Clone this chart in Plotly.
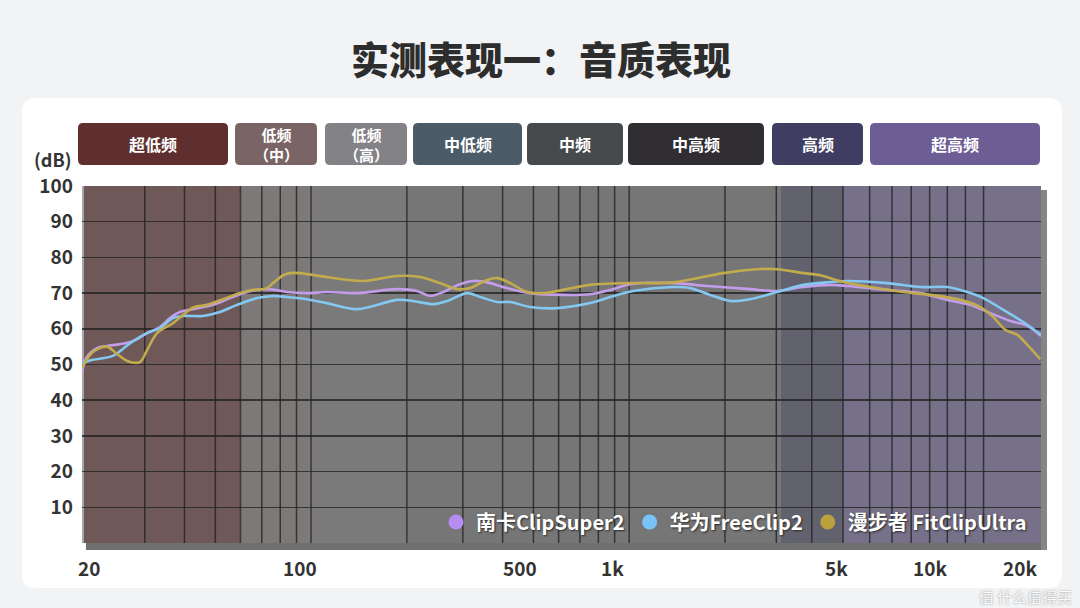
import math
import plotly.graph_objects as go

# ---------------- data ----------------
series_names = ["南卡ClipSuper2", "华为FreeClip2", "漫步者 FitClipUltra"]

nanka_freq = [19.05, 19.7, 21.2, 22.8, 25.1, 27.6, 30.5, 33.5, 36.0, 38.7, 42.6, 49.2, 55.6, 62.9,
              69.1, 75.9, 84.0, 97.1, 112, 140, 186, 215, 237, 260, 294, 323, 358, 413, 488, 620,
              754, 871, 1007, 1375, 1759, 2401, 2920, 3525, 4287, 4848, 6476, 8226, 10000, 11814,
              13651, 15783, 17847, 19700]
nanka_db = [47.6, 52.0, 54.6, 55.2, 55.7, 56.6, 58.8, 60.5, 63.0, 64.7, 65.5, 66.7, 68.6, 70.3,
            71.0, 71.0, 70.3, 70.0, 70.3, 70.0, 71.1, 70.6, 69.2, 70.3, 72.5, 73.4, 73.0, 71.4, 70.0, 69.5,
            69.7, 70.9, 72.5, 72.8, 72.0, 71.1, 70.6, 71.7, 72.3, 72.0, 70.9, 70.0, 68.1, 66.7,
            64.4, 62.2, 60.8, 58.0]

huawei_freq = [19.05, 20.6, 23.8, 27.0, 30.5, 33.5, 36.8, 39.6, 45.7, 51.7, 58.5, 67.6, 75.9, 84.0,
               97.1, 112, 140, 186, 209, 242, 268, 309, 340, 385, 423, 488, 594, 754, 871, 1029,
               1375, 1555, 1797, 2078, 2401, 2920, 3525, 4287, 4848, 6476, 8226, 10000, 11560,
               12977, 15003, 17338, 19700]
huawei_db = [50.4, 51.3, 52.4, 56.0, 58.8, 60.2, 63.0, 63.6, 63.6, 64.7, 66.7, 68.6, 69.2, 68.9,
             68.3, 67.2, 65.5, 68.1, 67.8, 66.9, 67.8, 70.0, 68.9, 67.5, 67.5, 66.1, 65.8, 67.2, 68.9, 70.6,
             71.7, 71.4, 69.5, 67.8, 68.3, 70.3, 72.3, 73.1, 73.4, 72.8, 71.7, 71.7, 70.3,
             68.6, 65.3, 61.9, 58.3]

edifier_freq = [19.05, 20.6, 22.8, 24.5, 26.4, 29.0, 30.5, 32.8, 36.8, 39.6, 42.6, 47.1, 52.9, 59.8,
                65.7, 72.7, 75.9, 81.7, 85.9, 92.3, 112, 146, 186, 220, 254, 288, 316, 358, 385, 423,
                478, 537, 620, 754, 1007, 1375, 1975, 2526, 2920, 3525, 3987, 4710, 5727, 7270,
                8843, 10987, 12698, 13953, 15221, 16602, 17847, 19612]
edifier_db = [49.0, 53.5, 55.0, 53.0, 51.0, 50.7, 54.0, 58.8, 61.6, 63.9, 66.0, 66.7, 68.3, 70.0,
              70.9, 71.4, 72.8, 75.0, 75.6, 75.6, 74.5, 73.4, 74.8, 74.5, 72.8, 71.1, 71.4, 73.7, 74.2, 72.8,
              70.3, 70.0, 70.9, 72.3, 72.8, 73.0, 75.6, 76.7, 76.7, 75.6, 75.0, 73.1, 71.7, 70.3,
              69.5, 68.1, 66.1, 63.3, 59.7, 58.3, 55.5, 51.5]

# frequency bands (Hz) and their labels
band_edges = [19.05, 60, 100, 200, 3000, 4700, 19700]
band_labels = ["超低频", "低频<br>（中）", "低频<br>（高）", "中低频", "中频", "中高频", "高频", "超高频"]

y_ticks = [10, 20, 30, 40, 50, 60, 70, 80, 90, 100]
x_tick_vals = [20, 100, 500, 1000, 5000, 10000, 20000]
x_tick_text = ["20", "100", "500", "1k", "5k", "10k", "20k"]
grid_freqs = [30, 40, 50, 60, 70, 80, 90, 100, 200, 300, 400, 500, 600, 700, 800, 900, 1000,
              2000, 2900, 3750, 4700, 5700, 6700, 7700, 8800, 10000, 11400, 13000]

# ---------------- styling ----------------
W, H = 1080, 608
PL, PR, PT, PB = 82, 1041, 186, 543
line_colors = ["#c39de9", "#84c7f0", "#c2ab4c"]
marker_colors = ["#b68cf0", "#78c4f6", "#b9a23d"]
band_fill = ["#6e5858", "#7e7979", "#7a7a7a", "#767676", "#62626f", "#767189"]
box_colors = ["#5f2f2f", "#7b6465", "#838287", "#4b5c68", "#464a4d", "#312e33", "#3f3e62", "#6c5d95"]
box_px = [(78, 228), (235, 317), (325, 407), (413, 522), (527, 623), (628, 764), (772, 863), (870, 1040)]
x_nudge = [0, -11, -13, -17, -15, -17, -23]
FONT = "Noto Sans CJK SC"
LO, HI = math.log10(band_edges[0]), math.log10(band_edges[-1])


def X(px):
    return (px - PL) / (PR - PL)


def Y(py):
    return (PB - py) / (PB - PT)


def rrect(x0, y0, x1, y1, r):
    p = [
        f"M {X(x0 + r)},{Y(y0)}", f"L {X(x1 - r)},{Y(y0)}", f"Q {X(x1)},{Y(y0)} {X(x1)},{Y(y0 + r)}",
        f"L {X(x1)},{Y(y1 - r)}", f"Q {X(x1)},{Y(y1)} {X(x1 - r)},{Y(y1)}",
        f"L {X(x0 + r)},{Y(y1)}", f"Q {X(x0)},{Y(y1)} {X(x0)},{Y(y1 - r)}",
        f"L {X(x0)},{Y(y0 + r)}", f"Q {X(x0)},{Y(y0)} {X(x0 + r)},{Y(y0)}", "Z",
    ]
    return " ".join(p)


fig = go.Figure()

all_f = [nanka_freq, huawei_freq, edifier_freq]
all_d = [nanka_db, huawei_db, edifier_db]
for i in range(3):
    fig.add_trace(go.Scatter(
        x=all_f[i], y=all_d[i], mode="lines", showlegend=False, hoverinfo="skip",
        line=dict(color=line_colors[i], width=2.6, shape="spline", smoothing=0.9),
    ))
for i in range(3):
    fig.add_trace(go.Scatter(
        x=[None], y=[None], mode="markers", name=series_names[i],
        marker=dict(color=marker_colors[i], size=15),
    ))

shapes = []
# white card
shapes.append(dict(type="path", xref="paper", yref="paper", path=rrect(22, 98, 1062, 588, 14),
                   fillcolor="white", line=dict(width=0), layer="below"))
# plot shadow strips
shapes.append(dict(type="rect", xref="paper", yref="paper", x0=X(86), x1=X(1047), y0=Y(550), y1=Y(543),
                   fillcolor="#707070", line=dict(width=0), layer="below"))
shapes.append(dict(type="rect", xref="paper", yref="paper", x0=X(1041), x1=X(1047), y0=Y(550), y1=Y(190),
                   fillcolor="#858585", line=dict(width=0), layer="below"))
# band backgrounds
for i in range(len(band_edges) - 1):
    shapes.append(dict(type="rect", xref="x", yref="paper", x0=band_edges[i], x1=band_edges[i + 1],
                       y0=0, y1=1, fillcolor=band_fill[i], line=dict(width=0), layer="below"))
# vertical grid
for f in grid_freqs:
    shapes.append(dict(type="line", xref="x", yref="paper", x0=f, x1=f, y0=0, y1=1,
                       line=dict(color="rgba(35,35,35,0.8)", width=1.5), layer="between"))
# left edge highlight
shapes.append(dict(type="line", xref="paper", yref="paper", x0=0.001, x1=0.001, y0=0, y1=1,
                   line=dict(color="#a9a9a9", width=2), layer="between"))
# band label boxes
for i, (a, b) in enumerate(box_px):
    shapes.append(dict(type="path", xref="paper", yref="paper", path=rrect(a, 123, b, 165, 5),
                       fillcolor=box_colors[i], line=dict(width=0), layer="below"))

annotations = []
for i, (a, b) in enumerate(box_px):
    two = "<br>" in band_labels[i]
    annotations.append(dict(xref="paper", yref="paper", x=X((a + b) / 2), y=Y(144), text=band_labels[i],
                            showarrow=False, xanchor="center", yanchor="middle",
                            font=dict(family=FONT, size=15 if two else 16, color="white", weight="bold")))
annotations.append(dict(xref="paper", yref="paper", x=X(541), y=Y(58), text="实测表现一：音质表现",
                        showarrow=False, xanchor="center", yanchor="middle",
                        font=dict(family=FONT, size=38, color="#2d2d2d", weight=900)))
annotations.append(dict(xref="paper", yref="paper", x=X(52), y=Y(159), text="(dB)",
                        showarrow=False, xanchor="center", yanchor="middle",
                        font=dict(family=FONT, size=18, color="#333333", weight=600)))
for v, t, n in zip(x_tick_vals, x_tick_text, x_nudge):
    xp = (math.log10(v) - LO) / (HI - LO)
    annotations.append(dict(xref="paper", yref="paper", x=xp, y=Y(567), text=t, xshift=n,
                            showarrow=False, xanchor="center", yanchor="middle",
                            font=dict(family=FONT, size=19, color="#333333", weight=600)))
annotations.append(dict(xref="paper", yref="paper", x=X(1074), y=Y(596), text="值 什么值得买",
                        showarrow=False, xanchor="right", yanchor="middle",
                        font=dict(family=FONT, size=15, color="#fafafa", shadow="0px 0px 2px #8a8a8a")))

fig.update_layout(
    width=W, height=H,
    margin=dict(l=PL, r=W - PR, t=PT, b=H - PB, pad=0),
    paper_bgcolor="#f2f3f5", plot_bgcolor="#7a7a7a",
    shapes=shapes, annotations=annotations,
    showlegend=True,
    legend=dict(orientation="h", xanchor="right", yanchor="middle", x=X(1032), y=Y(522),
                bgcolor="rgba(0,0,0,0)", itemwidth=30, tracegroupgap=0,
                font=dict(family=FONT, size=20, color="white", weight="bold",
                          shadow="1px 1px 2px #2a2a2a")),
    xaxis=dict(type="log", range=[LO, HI],
               showgrid=False, zeroline=False, showticklabels=False, ticks="", showline=False),
    yaxis=dict(range=[0, 100], tickvals=y_ticks, showgrid=True, gridcolor="rgba(35,35,35,0.8)",
               gridwidth=1.5, zeroline=False, ticks="", showline=False, ticklabelstandoff=8,
               tickfont=dict(family=FONT, size=19, color="#333333", weight=600)),
)

fig.write_html("out.html", config={"displayModeBar": False, "staticPlot": True})

# remove the default page margin so the figure sits at the window origin
with open("out.html", "r", encoding="utf-8") as fh:
    html = fh.read()
html = html.replace("<body>", '<body style="margin:0;padding:0;">', 1)
html = html.replace("<head>", '<head><style>html,body{margin:0;padding:0;background:#f2f3f5;}</style>', 1)
with open("out.html", "w", encoding="utf-8") as fh:
    fh.write(html)
